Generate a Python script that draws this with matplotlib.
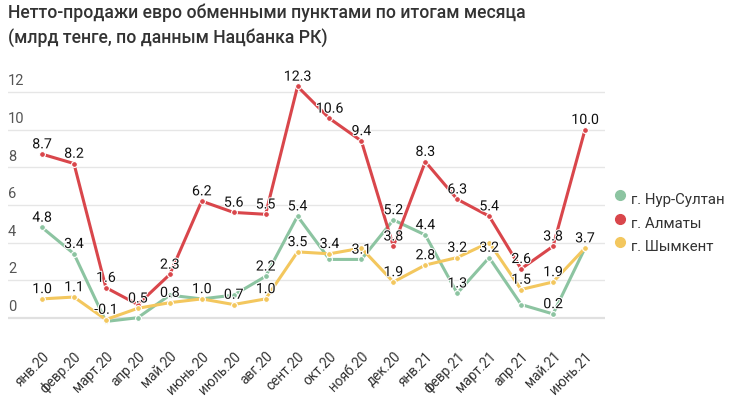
import matplotlib
matplotlib.use("Agg")
import matplotlib.pyplot as plt
import matplotlib.patheffects as pe
from matplotlib.lines import Line2D

plt.rcParams['font.family'] = ['Roboto', 'DejaVu Sans']

months = ["янв.20", "февр.20", "март.20", "апр.20", "май.20", "июнь.20", "июль.20",
          "авг.20", "сент.20", "окт.20", "нояб.20", "дек.20", "янв.21", "февр.21",
          "март.21", "апр.21", "май.21", "июнь.21"]

nursultan = [4.8, 3.4, -0.2, 0.0, 1.2, 1.0, 1.2, 2.2, 5.4, 3.1, 3.1, 5.2, 4.4, 1.3, 3.2, 0.7, 0.2, 3.7]
almaty    = [8.7, 8.2, 1.6, 0.7, 2.3, 6.2, 5.6, 5.5, 12.3, 10.6, 9.4, 3.8, 8.3, 6.3, 5.4, 2.6, 3.8, 10.0]
shymkent  = [1.0, 1.1, -0.1, 0.5, 0.8, 1.0, 0.7, 1.0, 3.5, 3.4, 3.7, 1.9, 2.8, 3.2, 4.0, 1.5, 1.9, 3.7]

# which points carry a visible value label
nursultan_lbl = [1, 1, 0, 0, 0, 0, 0, 1, 1, 0, 1, 1, 1, 1, 1, 0, 1, 0]
almaty_lbl    = [1, 1, 1, 0, 1, 1, 1, 1, 1, 1, 1, 1, 1, 1, 1, 1, 1, 1]
shymkent_lbl  = [1, 1, 1, 1, 1, 1, 1, 1, 1, 1, 0, 1, 1, 1, 0, 1, 1, 1]

series_names = ["г. Нур-Султан", "г. Алматы", "г. Шымкент"]
colors = ["#8cc4a1", "#d9464b", "#f3c75e"]
yticks = [0, 2, 4, 6, 8, 10, 12]

W, H = 730, 399
fig = plt.figure(figsize=(W / 100, H / 100), dpi=100)
# axes in pixel coordinates
left, right, top, bottom = 8, 605, 80, 330
ax = fig.add_axes([left / W, 1 - bottom / H, (right - left) / W, (bottom - top) / H])

x = list(range(len(months)))
step = (585 - 42) / 17
ax.set_xlim(-(42 - left) / step, 17 + (right - 585) / step)
ppu = 18.8
ax.set_ylim(-(bottom - 317.7) / ppu, (317.7 - top) / ppu)

for s in ax.spines.values():
    s.set_visible(False)
ax.set_yticks([])
for v in yticks:
    ax.axhline(v, color="#e6e6e6" if v else "#e0e0e0", lw=1.0 if v else 1.6, zorder=0)
    ax.text(0.0, v + 0.2, str(v), transform=ax.get_yaxis_transform(), ha="left", va="bottom",
            fontsize=10.5, color="#555555")

data = [nursultan, almaty, shymkent]
lbls = [nursultan_lbl, almaty_lbl, shymkent_lbl]
for i, (vals, lb, c) in enumerate(zip(data, lbls, colors)):
    ax.plot(x, vals, color=c, lw=2.2, marker="o", ms=4.2, mfc=c, mec="white", mew=0.8,
            zorder=2 + i, solid_joinstyle="round")
for i, (vals, lb, c) in enumerate(zip(data, lbls, colors)):
    for xi, v, show in zip(x, vals, lb):
        if show:
            ax.annotate(f"{v:.1f}", (xi, v), xytext=(0, 2.0), textcoords="offset points",
                        ha="center", va="bottom", fontsize=10.2, color="#111111", zorder=10,
                        path_effects=[pe.withStroke(linewidth=1.5, foreground="white")])

ax.set_xticks(x)
ax.set_xticklabels(months, rotation=45, ha="right", va="top", rotation_mode="anchor",
                   fontsize=9.8, color="#333333")
ax.tick_params(axis="x", length=0, pad=14)

# title
fig.text(8 / W, 1 - 13 / H, "Нетто-продажи евро обменными пунктами по итогам месяца",
         ha="left", va="center", fontsize=12.7, weight="medium", color="#333333")
fig.text(8 / W, 1 - 39 / H, "(млрд тенге, по данным Нацбанка РК)",
         ha="left", va="center", fontsize=12.7, weight="medium", color="#333333")

# legend
for k, (name, c) in enumerate(zip(series_names, colors)):
    yy = 195 + 23.5 * k
    fig.add_artist(Line2D([620 / W], [1 - yy / H], marker="o", ms=7, color=c, lw=0,
                          transform=fig.transFigure))
    fig.text(631 / W, 1 - (yy + 5) / H, name, ha="left", va="center", fontsize=10.8,
             color="#333333")

fig.savefig("out.png", dpi=100)
